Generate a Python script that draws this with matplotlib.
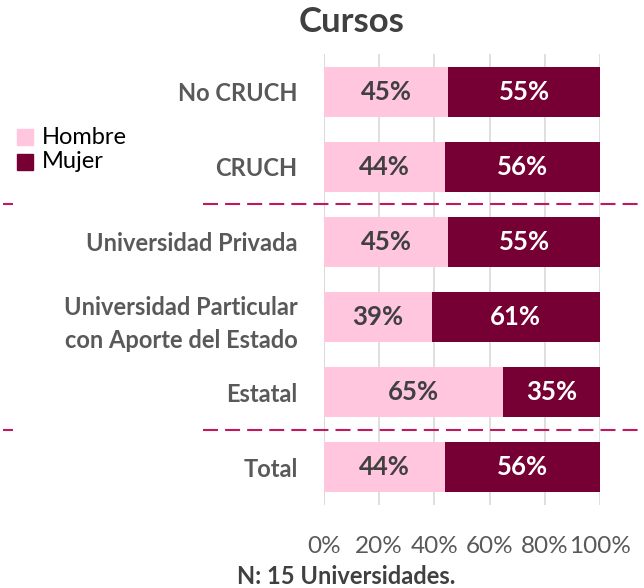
import matplotlib.pyplot as plt
from matplotlib.lines import Line2D
from matplotlib.transforms import blended_transform_factory

categorias = ["No CRUCH", "CRUCH", "Universidad Privada",
              "Universidad Particular\ncon Aporte del Estado", "Estatal", "Total"]
hombre = [45, 44, 45, 39, 65, 44]
mujer = [55, 56, 55, 61, 35, 56]
ticks = [0, 20, 40, 60, 80, 100]

rosa = "#FFC6DE"
vino = "#760033"
gris = "#595959"

plt.rcParams["font.family"] = ["Lato", "DejaVu Sans"]

fig = plt.figure(figsize=(6.44, 5.88), dpi=100)
ax = fig.add_axes([324 / 644, 1 - 505 / 588, 276 / 644, 451 / 588])

y = list(range(len(categorias)))
ax.barh(y, hombre, height=0.667, color=rosa, zorder=2)
ax.barh(y, mujer, left=hombre, height=0.667, color=vino, zorder=2)

for i, (h, m) in enumerate(zip(hombre, mujer)):
    ax.text(h / 2, i, f"{h}%", ha="center", va="center", fontsize=18.5,
            fontweight="bold", color="#404040", zorder=3)
    ax.text(h + m / 2, i, f"{m}%", ha="center", va="center", fontsize=18.5,
            fontweight="bold", color="white", zorder=3)

ax.set_xlim(0, 100)
ax.set_ylim(5.5, -0.5)
ax.set_xticks(ticks)
ax.set_xticklabels([f"{t}%" for t in ticks], fontsize=17.5, color=gris)
ax.set_yticks(y)
ax.set_yticklabels(categorias, fontsize=17, fontweight="bold", color=gris,
                   linespacing=1.5)
ax.tick_params(axis="x", length=0, pad=22)
ax.tick_params(axis="y", length=0, pad=19)
ax.xaxis.grid(True, color="#D9D9D9", lw=1.2, zorder=0)
for s in ax.spines.values():
    s.set_visible(False)
ax.axvline(0, color="#D9D9D9", lw=1.2, zorder=1)

# separadores punteados entre grupos
trans = blended_transform_factory(fig.transFigure, ax.transData)
for yy in (1.5, 4.5):
    for x0, x1 in ((3 / 644, 13 / 644), (203 / 644, 1.0)):
        ln = Line2D([x0, x1], [yy, yy], transform=trans, color="#C2185F",
                    lw=1.5, clip_on=False)
        ln.set_dashes((7.2, 3.4))
        fig.add_artist(ln)

# leyenda
for k, (lab, col) in enumerate((("Hombre", rosa), ("Mujer", vino))):
    yy = 1 - (137 + 25 * k) / 588
    fig.patches.append(plt.Rectangle((17 / 644, yy - 8 / 588), 16 / 644, 16 / 588,
                                     transform=fig.transFigure, color=col))
    fig.text(42 / 644, yy, lab, fontsize=17, va="center", ha="left", color="black")

fig.text(352 / 644, 1 - 22 / 588, "Cursos", fontsize=25, fontweight="bold",
         color="#404040", ha="center", va="center")
fig.text(346 / 644, 1 - 576 / 588, "N: 15 Universidades.", fontsize=17,
         fontweight="bold", color="#404040", ha="center", va="center")

fig.savefig("out.png", dpi=100)
